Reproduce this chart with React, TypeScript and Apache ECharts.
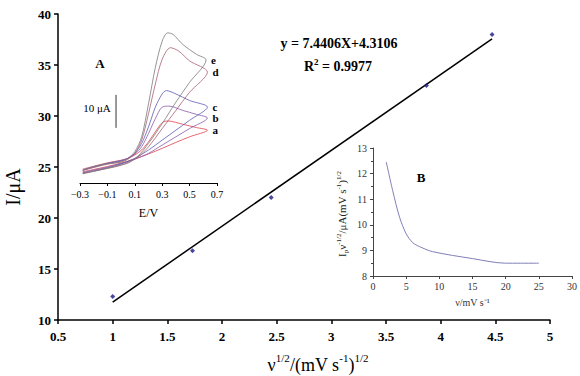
import React, { useEffect, useRef } from "react";
import * as echarts from "echarts";

// Main plot: peak current vs square root of scan rate
const sqrtScanRate = [1, 1.73, 2.45, 3.87, 4.47];
const peakCurrent = [12.3, 16.8, 22.0, 33.0, 38.0];
const fitSlope = 7.4406;
const fitIntercept = 4.3106;
const fitRange = [1, 4.47];
const mainXTicks = { min: 0.5, max: 5, step: 0.5 };
const mainYTicks = { min: 10, max: 40, step: 5 };

// Inset A: cyclic voltammograms (E / V, I / µA), forward branch then reverse branch
const cvLabels = ["a", "b", "c", "d", "e"];
const cvE_a = [-0.28, -0.1, 0.0, 0.05, 0.1, 0.15, 0.2, 0.25, 0.3, 0.34, 0.45, 0.55, 0.63, 0.5, 0.4, 0.3, 0.2, 0.1, 0.0, -0.1, -0.2, -0.28];
const cvI_a = [4.2, 6.1, 6.9, 7.5, 8.5, 10, 12.5, 15.5, 18.3, 18.8, 17.8, 16.8, 16, 14, 12.3, 10.5, 8.8, 7.3, 6.0, 5.0, 4.1, 3.4];
const cvE_b = [-0.28, -0.1, 0.0, 0.05, 0.1, 0.15, 0.2, 0.25, 0.3, 0.35, 0.45, 0.55, 0.63, 0.5, 0.4, 0.3, 0.2, 0.1, 0.0, -0.1, -0.2, -0.28];
const cvI_b = [4.0, 6.0, 6.8, 7.5, 8.7, 11, 15, 19.5, 23, 23.3, 22, 20.8, 19.7, 16.5, 14, 11.5, 9, 7.2, 5.9, 4.8, 3.9, 3.2];
const cvE_c = [-0.28, -0.1, 0.0, 0.05, 0.1, 0.15, 0.2, 0.25, 0.3, 0.33, 0.4, 0.5, 0.63, 0.5, 0.4, 0.3, 0.2, 0.1, 0.0, -0.1, -0.2, -0.28];
const cvI_c = [3.9, 5.9, 6.7, 7.5, 9, 12, 17, 23, 27, 28, 27, 25, 23, 19, 16, 13, 10, 7.5, 5.8, 4.6, 3.7, 3.0];
const cvE_d = [-0.28, -0.1, 0.0, 0.05, 0.1, 0.15, 0.2, 0.25, 0.3, 0.36, 0.42, 0.5, 0.63, 0.5, 0.4, 0.3, 0.2, 0.12, 0.0, -0.1, -0.2, -0.28];
const cvI_d = [3.8, 5.7, 6.3, 7.2, 9, 13, 21, 30, 37.5, 41, 40, 37, 33.6, 27.5, 22, 16.5, 11, 7.8, 5.4, 4.4, 3.6, 2.9];
const cvE_e = [-0.28, -0.2, -0.1, 0.0, 0.05, 0.1, 0.15, 0.2, 0.25, 0.3, 0.34, 0.38, 0.45, 0.55, 0.62, 0.5, 0.4, 0.3, 0.2, 0.12, 0.05, 0.0, -0.1, -0.2, -0.28];
const cvI_e = [3.8, 5.0, 5.8, 6.5, 7.5, 9.5, 14, 24, 35, 43, 45.5, 45, 42, 39, 37.3, 30.5, 24.5, 18, 12, 8, 6, 5.5, 4.5, 3.5, 2.8];
const cvColors = ["#e0404e", "#8a5aa8", "#5a5ab8", "#a86070", "#7a7a7a"];
const cvTickValues = [-0.3, -0.1, 0.1, 0.3, 0.5, 0.7];
const scaleBarE = -0.037;
const scaleBarI = [16.7, 26.7];

// Inset B: current function vs scan rate
const scanRate = [2, 3, 4, 5, 6, 7, 9, 15, 20, 25];
const currentFunction = [12.45, 11.3, 10.3, 9.65, 9.3, 9.15, 8.95, 8.68, 8.5, 8.5];

const SERIF = "'Liberation Serif', 'Times New Roman', serif";

export default function App() {
  const ref = useRef<HTMLDivElement>(null);

  useEffect(() => {
    document.body.style.margin = "0";
    const chart = echarts.init(ref.current!, null, { renderer: "svg" });

    const cvE = [cvE_a, cvE_b, cvE_c, cvE_d, cvE_e];
    const cvI = [cvI_a, cvI_b, cvI_c, cvI_d, cvI_e];

    const cvSeries = cvLabels.map((name, k) => {
      const e = cvE[k];
      const i = cvI[k];
      // the switching potential (largest E) carries the curve's letter
      let turn = 0;
      e.forEach((v, j) => {
        if (v > e[turn]) turn = j;
      });
      return {
        type: "line",
        name,
        xAxisIndex: 1,
        yAxisIndex: 1,
        smooth: 0.3,
        showSymbol: true,
        symbolSize: 0,
        lineStyle: { color: cvColors[k], width: 0.8 },
        itemStyle: { color: cvColors[k] },
        data: e.map((v, j) =>
          j === turn
            ? {
                value: [v, i[j]],
                label: {
                  show: true,
                  position: "right",
                  distance: 5,
                  formatter: name,
                  fontFamily: SERIF,
                  fontSize: 11,
                  lineHeight: 11,
                  fontWeight: "bold",
                  color: "#000",
                },
              }
            : [v, i[j]]
        ),
      };
    });

    const fitData = fitRange.map((x) => [x, fitSlope * x + fitIntercept]);

    chart.setOption({
      animation: false,
      grid: [
        { left: 58, right: 30, top: 14, bottom: 56 },
        { left: 80, right: 363, top: 18, bottom: 193 },
        { left: 373, right: 7, top: 148, bottom: 100 },
      ],
      xAxis: [
        {
          gridIndex: 0,
          type: "value",
          min: mainXTicks.min,
          max: mainXTicks.max,
          interval: mainXTicks.step,
          splitLine: { show: false },
          axisLine: { lineStyle: { color: "#000", width: 1.5 } },
          axisTick: { length: 4, lineStyle: { color: "#000", width: 1.5 } },
          axisLabel: {
            margin: 10,
            color: "#000",
            fontFamily: SERIF,
            fontSize: 13,
            fontWeight: "bold",
          },
        },
        {
          gridIndex: 1,
          type: "value",
          min: -0.3,
          max: 0.7,
          splitLine: { show: false },
          axisLine: { lineStyle: { color: "#000", width: 1 } },
          axisTick: { length: 3, customValues: cvTickValues, lineStyle: { color: "#000" } },
          axisLabel: {
            customValues: cvTickValues,
            margin: 6,
            color: "#000",
            fontFamily: SERIF,
            fontSize: 10,
            formatter: (v: number) =>
              v < 0 ? "\u2212" + Math.abs(v).toFixed(1) : v.toFixed(1),
          },
          name: "E/V",
          nameLocation: "middle",
          nameGap: 24,
          nameTextStyle: { fontFamily: SERIF, fontSize: 12, color: "#000" },
        },
        {
          gridIndex: 2,
          type: "value",
          min: 0,
          max: 30,
          interval: 5,
          splitLine: { show: false },
          axisLine: { lineStyle: { color: "#444", width: 1 } },
          axisTick: { length: 3, lineStyle: { color: "#444" } },
          axisLabel: {
            margin: 5,
            color: "#333",
            fontFamily: SERIF,
            fontSize: 10,
          },
          name: "\u03bd/mV s\u207b\u00b9",
          nameLocation: "middle",
          nameGap: 21,
          nameTextStyle: { fontFamily: SERIF, fontSize: 10, color: "#333" },
        },
      ],
      yAxis: [
        {
          gridIndex: 0,
          type: "value",
          min: mainYTicks.min,
          max: mainYTicks.max,
          interval: mainYTicks.step,
          splitLine: { show: false },
          axisLine: { show: true, lineStyle: { color: "#000", width: 1.5 } },
          axisTick: { show: true, length: 4, lineStyle: { color: "#000", width: 1.5 } },
          axisLabel: {
            margin: 7,
            color: "#000",
            fontFamily: SERIF,
            fontSize: 13,
            fontWeight: "bold",
          },
        },
        {
          gridIndex: 1,
          type: "value",
          min: 0,
          max: 50,
          show: false,
        },
        {
          gridIndex: 2,
          type: "value",
          min: 8,
          max: 13,
          interval: 1,
          splitLine: { show: false },
          axisLine: { show: true, lineStyle: { color: "#444", width: 1 } },
          axisTick: { show: true, length: 3, lineStyle: { color: "#444" } },
          minorTick: { show: true, splitNumber: 2, length: 2, lineStyle: { color: "#444" } },
          axisLabel: {
            margin: 6,
            color: "#333",
            fontFamily: SERIF,
            fontSize: 10,
          },
        },
      ],
      series: [
        {
          type: "line",
          name: "fit",
          xAxisIndex: 0,
          yAxisIndex: 0,
          showSymbol: false,
          lineStyle: { color: "#000", width: 1.5 },
          data: fitData,
          z: 2,
        },
        {
          type: "scatter",
          name: "Ip",
          xAxisIndex: 0,
          yAxisIndex: 0,
          symbol: "diamond",
          symbolSize: 5,
          itemStyle: { color: "#1c1c8a" },
          data: sqrtScanRate.map((x, j) => [x, peakCurrent[j]]),
          z: 3,
        },
        ...cvSeries,
        {
          type: "line",
          name: "scale",
          xAxisIndex: 1,
          yAxisIndex: 1,
          showSymbol: false,
          lineStyle: { color: "#333", width: 1 },
          data: scaleBarI.map((v) => [scaleBarE, v]),
        },
        {
          type: "line",
          name: "B",
          xAxisIndex: 2,
          yAxisIndex: 2,
          smooth: 0.3,
          showSymbol: false,
          lineStyle: { color: "#7070b0", width: 0.9 },
          data: scanRate.map((x, j) => [x, currentFunction[j]]),
        },
      ],
      graphic: [
        {
          type: "text",
          x: 13,
          y: 187,
          rotation: Math.PI / 2,
          style: {
            text: "I/\u03bcA",
            fontFamily: SERIF,
            fontSize: 20,
            fill: "#000",
            align: "center",
            verticalAlign: "middle",
          },
        },
        {
          type: "text",
          x: 318,
          y: 363,
          style: {
            text: "{m|\u03bd}{s|1/2}{m|/(mV s}{s|-1}{m|)}{s|1/2}",
            align: "center",
            verticalAlign: "middle",
            rich: {
              m: { fontFamily: SERIF, fontSize: 18, fill: "#000", verticalAlign: "bottom", lineHeight: 22 },
              s: { fontFamily: SERIF, fontSize: 11, fill: "#000", verticalAlign: "top", lineHeight: 22 },
            },
          },
        },
        {
          type: "text",
          x: 339,
          y: 43,
          style: {
            text: "y = 7.4406X+4.3106",
            fontFamily: SERIF,
            fontSize: 14,
            fontWeight: "bold",
            fill: "#000",
            align: "center",
            verticalAlign: "middle",
          },
        },
        {
          type: "text",
          x: 338,
          y: 65,
          style: {
            text: "{m|R}{s|2}{m| = 0.9977}",
            align: "center",
            verticalAlign: "middle",
            rich: {
              m: { fontFamily: SERIF, fontSize: 14, fontWeight: "bold", fill: "#000", verticalAlign: "bottom", lineHeight: 16 },
              s: { fontFamily: SERIF, fontSize: 9, fontWeight: "bold", fill: "#000", verticalAlign: "top", lineHeight: 16 },
            },
          },
        },
        {
          type: "text",
          x: 100,
          y: 63,
          style: {
            text: "A",
            fontFamily: SERIF,
            fontSize: 13,
            fontWeight: "bold",
            fill: "#000",
            align: "center",
            verticalAlign: "middle",
          },
        },
        {
          type: "text",
          x: 97,
          y: 108,
          style: {
            text: "10 \u03bcA",
            fontFamily: SERIF,
            fontSize: 11,
            fill: "#000",
            align: "center",
            verticalAlign: "middle",
          },
        },
        {
          type: "text",
          x: 421,
          y: 177,
          style: {
            text: "B",
            fontFamily: SERIF,
            fontSize: 13,
            fontWeight: "bold",
            fill: "#000",
            align: "center",
            verticalAlign: "middle",
          },
        },
        {
          type: "text",
          x: 342,
          y: 214,
          rotation: Math.PI / 2,
          style: {
            text: "{m|I}{b|p}{m|\u03bd}{s|-1/2}{m|/\u03bcA(mV s}{s|-1}{m|)}{s|1/2}",
            align: "center",
            verticalAlign: "middle",
            rich: {
              m: { fontFamily: SERIF, fontSize: 11, fill: "#222", verticalAlign: "middle", lineHeight: 14 },
              s: { fontFamily: SERIF, fontSize: 7, fill: "#222", verticalAlign: "top", lineHeight: 14 },
              b: { fontFamily: SERIF, fontSize: 7, fill: "#222", verticalAlign: "bottom", lineHeight: 14 },
            },
          },
        },
      ],
    });

    return () => chart.dispose();
  }, []);

  return <div ref={ref} style={{ width: 580, height: 376 }} />;
}
